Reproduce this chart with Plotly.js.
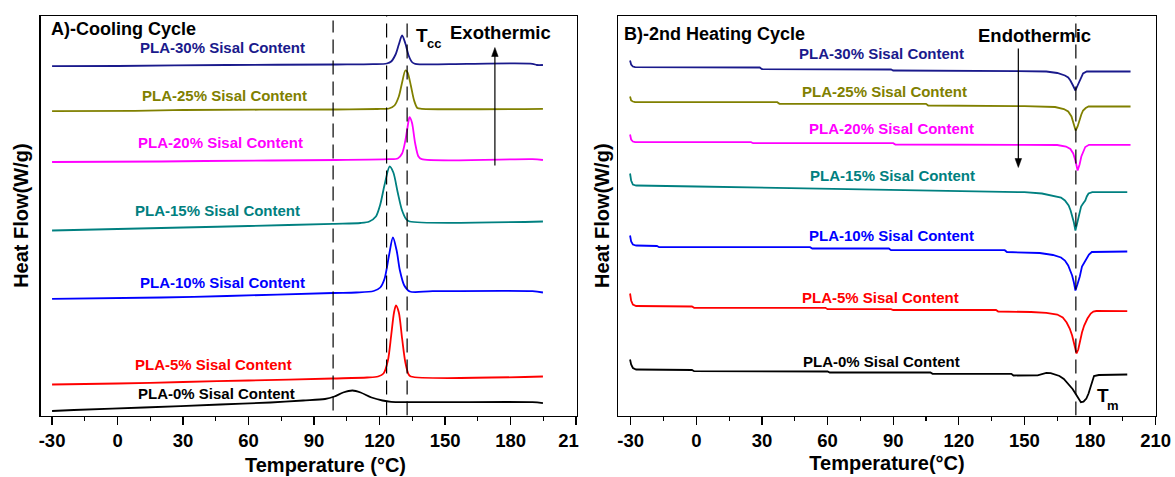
<!DOCTYPE html>
<html>
<head>
<meta charset="utf-8">
<script src="https://cdn.plot.ly/plotly-3.0.1.min.js"></script>
<style>html,body{margin:0;padding:0;background:#fff;}</style>
</head>
<body>
<div id="chart" style="width:1175px;height:477px;"></div>
<script>
// ---------- DATA (heat flow in offset arbitrary units) ----------
const seriesNames = ['PLA-0% Sisal Content','PLA-5% Sisal Content','PLA-10% Sisal Content','PLA-15% Sisal Content','PLA-20% Sisal Content','PLA-25% Sisal Content','PLA-30% Sisal Content'];
const seriesColors = ['#000000','#ff0000','#0000ff','#008080','#ff00ff','#808000','#1a1a8c'];

// A) Cooling cycle
const coolT0  = [-30,-20,12,47,70,85,95,99.3,103.3,107.6,111.3,116.3,121.3,125.3,190,194.8];
const coolHF0 = [4.5,5.5,8,11,13,15,16.5,19,23,25,23,18,15,13.7,13.3,12.3];
const coolT5  = [-30,0,30,60,98.6,114.3,119.3,121.8,123.8,125.3,126.6,127.5,128.8,130.3,131.8,133.3,134.3,194.8];
const coolHF5 = [31,32,33.5,35,37,38,39,42,55,80,103,110,103,77,53,41,39,39];
const coolT10 = [-30,20,50,98.6,109.3,117.3,120.3,122.3,124.3,126.1,127.8,129.3,131.3,133.8,144.3,190,194.8];
const coolHF10= [116.7,118,119.5,122.5,123,124.5,128,137,160,178,165,145,130,124,124.3,124.3,123];
const coolT15 = [-30,0,30,60,98.6,111.3,115.3,118.3,120.3,122.3,124.6,126.3,128.3,130.3,132.3,133.8,194.8];
const coolHF15= [185,186.5,188,189.5,191.7,192.5,194,199,211,231,249,243,223,205,196,194,194];
const coolT20 = [-30,20,40,100,124,128.3,130.3,131.8,133.3,133.7,134.8,136.3,137.8,139.3,190,194.8];
const coolHF20= [253.5,254,254.5,255.5,256.3,257,262,275,295,298.3,293,272,259,256.3,256.3,255.5];
const coolT25 = [-30,8,30,100,119,124.3,126.8,128.8,130.3,131.8,132.8,134.3,135.8,137.3,139.3,194.8];
const coolHF25= [304.3,304.6,305.5,306,306.5,307,310,319,333,345,343,330,315,307.5,306.7,306.7];
const coolT30 = [-30,0,50,100,117,123.3,125.3,127.3,128.8,130.3,131.8,133.3,134.8,136.3,160,190,192,194.8];
const coolHF30= [349.3,349.5,350.5,351,351.3,352,354,361,371,380,372,360,353.5,351.7,351.7,351.7,350.5,350.5];

// B) 2nd heating cycle
const heatT0  = [-30.3,-29.8,-29,-27.5,-2,-1,60,61,107,108,144,145,156,158,160,162,164,166,168,170,172,173.3,174.6,175.8,177,178.3,179.3,180.3,181.2,181.8,184,197];
const heatHF0 = [56,51,47.5,46,45.5,44.3,44,43,43,41.7,41.7,40,40.2,41.3,42.5,42.3,41.2,39.5,36.5,32,26.5,22,17,13.3,13.8,17,22,30,36,39.5,40.5,41];
const heatT5  = [-30.3,-29.8,-29,-27.5,-2,-1,59,60,89,90,137,138,153,160,165,167.5,169.3,170.7,171.8,172.9,173.8,174.6,175.3,176.3,177.3,178.8,180.3,181.5,182.8,197];
const heatHF5 = [122,115,111,109.5,109,107.7,107.7,106.3,106.3,105.5,105.5,104,103.5,102.7,101,98,93,87,80,71,62,66,74,83,90,97,102,104,104.5,104.3];
const heatT10 = [-30.3,-29.8,-29,-27.5,-18,-17,52,53,88,89,141,142,157,163,166.7,168.5,170,171,171.8,172.6,173.3,174.2,175.3,176.3,177.3,178.3,179.5,180.8,197];
const heatHF10= [180,174,171,170,169.5,168.3,168.3,167,167,165.3,165.3,163.5,162.5,160.5,158,155,150,145,140,133,125,131,139,149,153,157,161,163.5,164];
const heatT15 = [-30.3,-29.8,-29,-27.5,0,30,60,90,120,150,158,162,166.7,168.5,170.2,171.1,171.8,172.6,173.3,174.3,175.1,175.9,176.8,177.8,178.5,179.3,181,197];
const heatHF15= [242,235,231,230,229,228,227,226,225,223.3,222,220.5,218,215,210,205,200,193,185,194,202,209,212,215,219,222,223.3,223.3];
const heatT20 = [-30.3,-29.8,-29,-28,25,26,90,91,150,165,169,171,172.3,173.3,174.3,175.2,176,177,177.8,179.5,198.5];
const heatHF20= [281,276,274,273.3,273.3,272.3,272.3,271,270.7,270.5,269,266.5,262,255,245,251,259,265,268.5,270.7,270.7];
const heatT25 = [-30.3,-29.8,-29,-28,37,38,105,106,150,164,168,170,171.5,172.5,173.4,174.3,175,176,176.8,178,179.3,198.5];
const heatHF25= [319,315,314,313.3,313.3,311.7,311.7,310,309.3,308.5,306.5,304,299,292,285,289,295,301,305,307.5,309,309];
const heatT30 = [-30.3,-29.8,-29,-28,29,30,89,90,147,160,165,168.5,170,171,172.2,173.3,174.3,175.3,176.1,176.8,178.5,198.5];
const heatHF30= [355,351,349,348.3,348,346.3,346,345,344.3,344,342.5,340,338,335,330,325,330,335,339,342,344,344];

const xTickVals = [-30,0,30,60,90,120,150,180,210];
const NB = '\u00a0';
const xTickTextA = ['-30','0','30','60','90','120','150','180','21' + NB + NB + NB];
const xTickTextB = ['-30','0','30','60','90','120','150','180','210'];
const xMinorVals = [-15,15,45,75,105,135,165,195];
const tccLines = [98.7,123.2,132.6];
const tmLine = 173.5;

// ---------- BUILD ----------
const W = 1175, H = 477;
const FONT = 'Liberation Sans, Arial, sans-serif';
const px = x => x / W;
const py = y => 1 - y / H;
const bold = (size, color) => ({family: FONT, size: size, color: color || '#000', weight: 'bold'});

const coolT = [coolT0,coolT5,coolT10,coolT15,coolT20,coolT25,coolT30];
const coolHF = [coolHF0,coolHF5,coolHF10,coolHF15,coolHF20,coolHF25,coolHF30];
const heatT = [heatT0,heatT5,heatT10,heatT15,heatT20,heatT25,heatT30];
const heatHF = [heatHF0,heatHF5,heatHF10,heatHF15,heatHF20,heatHF25,heatHF30];

const traces = [];
for (let i = 0; i < seriesNames.length; i++) {
  traces.push({x: coolT[i], y: coolHF[i], xaxis:'x', yaxis:'y', mode:'lines', name: seriesNames[i],
    line:{color: seriesColors[i], width:1.8, shape:'spline', smoothing:0.8}, hoverinfo:'skip'});
  traces.push({x: heatT[i], y: heatHF[i], xaxis:'x2', yaxis:'y2', mode:'lines', name: seriesNames[i],
    line:{color: seriesColors[i], width:1.8, shape:'linear'}, hoverinfo:'skip'});
}

const yDomain = [1 - 415.5 / H, 1 - 15.8 / H];
function xAxis(domain, range, ticktext, anchor, title) {
  const ax = {
    domain: domain, range: range, anchor: anchor, showline: true, mirror: true, linecolor: '#000', linewidth: 1.3,
    showgrid: false, zeroline: false, ticks: 'outside', ticklen: 8, tickwidth: 1.3, tickcolor: '#000',
    tickmode: 'array', tickvals: xTickVals, ticktext: ticktext,
    minor: {tickmode: 'array', tickvals: xMinorVals, ticks: 'outside', ticklen: 4, tickwidth: 1.2, tickcolor: '#000', showgrid: false},
    tickfont: bold(18.5), fixedrange: true, automargin: false
  };
  if (title) ax.title = {text: title, font: bold(20), standoff: 6};
  return ax;
}
function yAxis(anchor, title, standoff) {
  return {
    domain: yDomain, range: [0, 399.7], anchor: anchor, showline: true, mirror: true, linecolor: '#000', linewidth: 1.3,
    showgrid: false, zeroline: false, ticks: '', showticklabels: false, fixedrange: true, automargin: false,
    title: {text: title, font: bold(20), standoff: standoff}
  };
}

const labelPosA = [[216,393],[213,364],[222,282],[217,210],[220,142],[224,95],[222,47]];
const labelPosB = [[882,361],[880,297],[891,236],[892,175],[891,129],[884,91],[882,53]];

const annotations = [];
for (let i = 0; i < seriesNames.length; i++) {
  annotations.push({xref:'paper', yref:'paper', x: px(labelPosA[i][0]), y: py(labelPosA[i][1]), text: seriesNames[i],
    showarrow:false, xanchor:'center', yanchor:'middle', font: bold(15, seriesColors[i])});
  annotations.push({xref:'paper', yref:'paper', x: px(labelPosB[i][0]), y: py(labelPosB[i][1]), text: seriesNames[i],
    showarrow:false, xanchor:'center', yanchor:'middle', font: bold(15, seriesColors[i])});
}
annotations.push(
  {xref:'paper', yref:'paper', x:px(49), y:py(29), text:'A)-Cooling Cycle', showarrow:false, xanchor:'left', yanchor:'middle', font: bold(18)},
  {xref:'paper', yref:'paper', x:px(622), y:py(34), text:'B)-2nd Heating Cycle', showarrow:false, xanchor:'left', yanchor:'middle', font: bold(18)},
  {xref:'paper', yref:'paper', x:px(414), y:py(35), text:'T', showarrow:false, xanchor:'left', yanchor:'middle', font: bold(19)},
  {xref:'paper', yref:'paper', x:px(425), y:py(43), text:'cc', showarrow:false, xanchor:'left', yanchor:'middle', font: bold(13)},
  {xref:'paper', yref:'paper', x:px(500), y:py(33), text:'Exothermic', showarrow:false, xanchor:'center', yanchor:'middle', font: bold(18.5)},
  {xref:'paper', yref:'paper', x:px(1034.5), y:py(35), text:'Endothermic', showarrow:false, xanchor:'center', yanchor:'middle', font: bold(18.5)},
  {xref:'paper', yref:'paper', x:px(1095), y:py(395), text:'T', showarrow:false, xanchor:'left', yanchor:'middle', font: bold(19)},
  {xref:'paper', yref:'paper', x:px(1105), y:py(405), text:'m', showarrow:false, xanchor:'left', yanchor:'middle', font: bold(13)},
  {xref:'paper', yref:'paper', x:px(325), y:py(465), text:'Temperature (°C)', showarrow:false, xanchor:'center', yanchor:'middle', font: bold(20)}
);

// arrows (shaft + head)
const arrowA = {x: 172.8, tip: 368, tail: 250};
const arrowB = {x: 147.2, tip: 248, tail: 367};
const headW = 1.5, headH = 9;
const dash = '14px,7px';
const shapes = [
  {type:'line', xref:'x', yref:'y', x0:tccLines[0], x1:tccLines[0], y0:5, y1:395, line:{color:'#000', width:1.2, dash:dash}},
  {type:'line', xref:'x', yref:'y', x0:tccLines[1], x1:tccLines[1], y0:0, y1:399.7, line:{color:'#000', width:1.2, dash:dash}},
  {type:'line', xref:'x', yref:'y', x0:tccLines[2], x1:tccLines[2], y0:0, y1:395, line:{color:'#000', width:1.2, dash:dash}},
  {type:'line', xref:'x2', yref:'y2', x0:tmLine, x1:tmLine, y0:0, y1:399.7, line:{color:'#000', width:1.2, dash:dash}},
  {type:'line', xref:'x', yref:'y', x0:arrowA.x, x1:arrowA.x, y0:arrowA.tail, y1:arrowA.tip - 4, line:{color:'#000', width:1.2}},
  {type:'path', xref:'x', yref:'y', path:`M ${arrowA.x-headW},${arrowA.tip-headH} L ${arrowA.x+headW},${arrowA.tip-headH} L ${arrowA.x},${arrowA.tip} Z`, fillcolor:'#000', line:{color:'#000', width:0.5}},
  {type:'line', xref:'x2', yref:'y2', x0:arrowB.x, x1:arrowB.x, y0:arrowB.tail, y1:arrowB.tip + 4, line:{color:'#000', width:1.2}},
  {type:'path', xref:'x2', yref:'y2', path:`M ${arrowB.x-headW},${arrowB.tip+headH} L ${arrowB.x+headW},${arrowB.tip+headH} L ${arrowB.x},${arrowB.tip} Z`, fillcolor:'#000', line:{color:'#000', width:0.5}}
];

const layout = {
  width: W, height: H, margin: {l:0, r:0, t:0, b:0},
  paper_bgcolor: '#fff', plot_bgcolor: '#fff', showlegend: false,
  xaxis: xAxis([40.5 / W, 577 / W], [-35.3, 210.4], xTickTextA, 'y', null),
  yaxis: yAxis('x', 'Heat Flow(W/g)', 5),
  xaxis2: xAxis([618.3 / W, 1155.7 / W], [-35.67, 210], xTickTextB, 'y2', 'Temperature(°C)'),
  yaxis2: yAxis('x2', 'Heat Flow(W/g)', 2),
  annotations: annotations, shapes: shapes,
  font: {family: FONT}
};

Plotly.newPlot('chart', traces, layout, {staticPlot: true, displayModeBar: false});
</script>
</body>
</html>
